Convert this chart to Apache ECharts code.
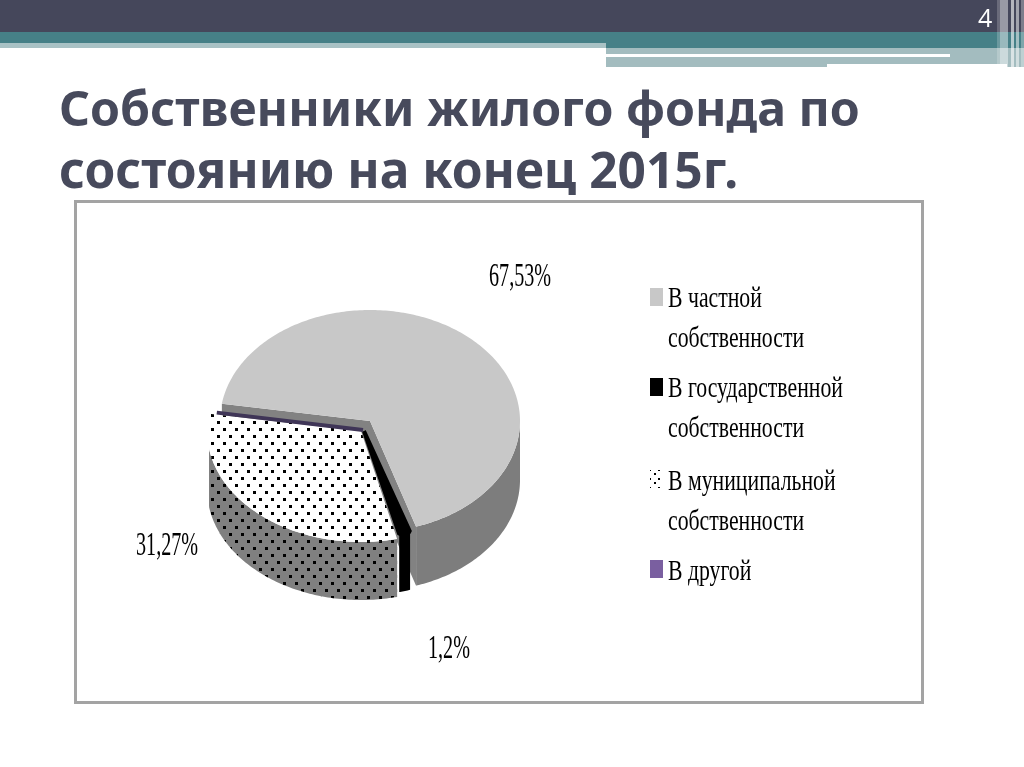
<!DOCTYPE html>
<html>
<head>
<meta charset="utf-8">
<script src="https://cdn.jsdelivr.net/npm/echarts@6/dist/echarts.min.js"></script>
<style>html,body{margin:0;padding:0;background:#fff}#c{width:1024px;height:767px}</style>
</head>
<body>
<div id="c"></div>
<script>
// ---- data ----
const titleLines = ['Собственники жилого фонда по', 'состоянию на конец 2015г.'];
const slideNumber = '4';
const categories = ['В частной\nсобственности', 'В государственной\nсобственности', 'В муниципальной\nсобственности', 'В другой'];
const shares = [67.53, 1.2, 31.27, 0];
const shareLabels = ['67,53%', '1,2%', '31,27%', ''];

// ---- drawing constants ----
const START_DEG = 279;
const DEPTH = [59, 58, 58, 0];
const APEX = [[370, 421], [364, 431], [361, 431], [363, 430]];
const RX = [150, 150, 154, 148];
const RY = [111, 106, 111, 111];
const MIN_X = 209;
const WALL = '#7d7d7d';
const TOPS = ['#c8c8c8', '#000000', null, '#3f3557'];
const LABEL_XY = [[489, 257], [428, 629], [136, 526]];
const LEGEND_Y = [295, 385, 478, 568];
const SWATCH_Y = [288, 378, 470, 560];
const SWATCH_FILL = ['#c8c8c8', '#000000', null, '#7a5fa0'];
const DRAW_ORDER = [0, 2, 1, 3];

function dots(bg, size) {
  const c = document.createElement('canvas');
  c.width = size ? size : 12; c.height = size ? size : 14;
  const g = c.getContext('2d');
  g.fillStyle = bg; g.fillRect(0, 0, c.width, c.height);
  g.fillStyle = '#000';
  if (size) { g.fillRect(1, 1, 2, 2); g.fillRect(6, 5, 2, 2); }
  else { g.fillRect(1, 1, 3, 3); g.fillRect(7, 8, 3, 3); }
  return { image: c, repeat: 'repeat' };
}
const dotsTop = dots('#ffffff');
const dotsWall = dots('#808080');
const dotsSwatch = dots('#ffffff', 9);

const total = shares.reduce((a, b) => a + b, 0);

function point(i, deg) {
  const a = deg * Math.PI / 180;
  let x = APEX[i][0] + RX[i] * Math.sin(a);
  if (i === 2) x = Math.max(x, MIN_X);
  return [x, APEX[i][1] - RY[i] * Math.cos(a)];
}

function serifText(text, x, y, size, sx) {
  return {
    type: 'text', x: x, y: y, scaleX: sx, z2: 50,
    style: { text: text, fill: '#000', font: size + 'px "Liberation Serif"', lineHeight: 40, verticalAlign: 'top', align: 'left' }
  };
}

function renderSlice(params, api) {
  const i = params.seriesIndex;
  const value = api.value(0);
  const before = shares.slice(0, i).reduce((a, b) => a + b, 0);
  const s = START_DEG + before / total * 360;
  const e = s + value / total * 360;
  const kids = [];
  const top = i === 2 ? dotsTop : TOPS[i];
  const side = i === 2 ? dotsWall : (i === 1 ? '#000' : WALL);
  const depth = DEPTH[i];
  const apex = APEX[i];

  if (value === 0) {
    kids.push({ type: 'polyline', z2: 10, shape: { points: [apex, point(i, s)] }, style: { stroke: top, lineWidth: 4, fill: null } });
  } else {
    const arc = [];
    for (let d = s; d <= e + 1e-6; d += 1) arc.push(point(i, d));
    arc.push(point(i, e));
    const first = arc[0], last = arc[arc.length - 1];
    // the outer wall shows only on the front half of the ellipse (450..630 degrees)
    const wall = [];
    const f0 = Math.max(s, 450), f1 = Math.min(e, 630);
    for (let d = f0; d <= f1 + 1e-6; d += 1) wall.push(point(i, d));
    wall.push(point(i, f1));
    for (let k = wall.length - 1; k >= 0; k--) wall.push([wall[k][0], wall[k][1] + depth]);
    if (i === 0) {
      // cut faces of the main slice, seen where the other slices are pulled away
      kids.push({ type: 'polygon', shape: { points: [apex, first, [first[0], first[1] + depth], [apex[0], apex[1] + depth]] }, style: { fill: '#828282' } });
      kids.push({ type: 'polygon', shape: { points: [apex, last, [last[0], last[1] + depth], [apex[0], apex[1] + depth]] }, style: { fill: '#828282' } });
    }
    kids.push({ type: 'polygon', shape: { points: wall }, style: { fill: side } });
    const topStyle = i === 1 ? { fill: top, stroke: '#000', lineWidth: 4, lineJoin: 'bevel' } : { fill: top };
    kids.push({ type: 'polygon', shape: { points: [apex].concat(arc) }, style: topStyle });
  }

  if (shareLabels[i]) kids.push(serifText(shareLabels[i], LABEL_XY[i][0], LABEL_XY[i][1], 33, 0.61));
  kids.push({ type: 'rect', z2: 50, shape: { x: 650, y: SWATCH_Y[i], width: 13, height: 18 }, style: { fill: SWATCH_FILL[i] || dotsSwatch } });
  kids.push(serifText(categories[i], 668, LEGEND_Y[i] - 16, 29, 0.75));
  return { type: 'group', children: kids };
}

const series = categories.map((name, i) => ({
  type: 'custom',
  name: name,
  coordinateSystem: 'none',
  silent: true,
  z: 2 + DRAW_ORDER.indexOf(i),
  data: [[shares[i]]],
  renderItem: renderSlice
}));

const band = (x, y, w, h, fill) => ({ type: 'rect', silent: true, shape: { x, y, width: w, height: h }, style: { fill } });
const titleRow = (text, top, size) => ({
  text: text, left: 54, top: top,
  textStyle: { fontFamily: 'Noto Sans', fontWeight: 'bold', fontSize: size, lineHeight: 62, color: '#474a5c' }
});

const chart = echarts.init(document.getElementById('c'), null, { renderer: 'canvas' });
chart.setOption({
  animation: false,
  backgroundColor: '#ffffff',
  title: [titleRow(titleLines[0], 76, 48.2), titleRow(titleLines[1], 138, 49.6)],
  graphic: [
    band(0, 0, 1024, 32, '#45475b'),
    band(0, 32, 1024, 11, '#468087'),
    band(0, 43, 606, 5, '#a9c2c5'),
    band(606, 43, 418, 5, '#468087'),
    band(606, 48, 418, 6, '#a3bcbf'),
    band(606, 54, 344, 3, '#ffffff'),
    band(950, 54, 74, 3, '#a3bcbf'),
    band(606, 57, 418, 7, '#a3bcbf'),
    band(606, 64, 221, 3, '#a3bcbf'),
    band(1007, 64, 17, 3, '#a3bcbf'),
    band(997, 0, 3, 67, 'rgba(255,255,255,0.2)'),
    band(1000, 0, 8, 67, 'rgba(255,255,255,0.45)'),
    band(1011, 0, 3, 67, 'rgba(255,255,255,0.6)'),
    band(1016, 0, 3, 67, 'rgba(255,255,255,0.5)'),
    band(1021, 0, 3, 67, 'rgba(255,255,255,0.3)'),
    { type: 'text', silent: true, x: 978, y: 7, style: { text: slideNumber, fill: '#fff', font: '25px "Open Sans"' } },
    { type: 'rect', silent: true, shape: { x: 75.5, y: 201.5, width: 847, height: 501 }, style: { fill: '#fff', stroke: '#a3a3a3', lineWidth: 3 } }
  ],
  series: series
});
</script>
</body>
</html>
